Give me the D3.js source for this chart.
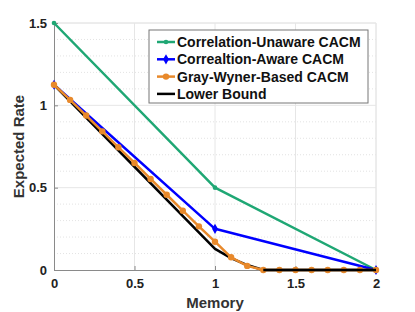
<!DOCTYPE html>
<html>
<head>
<meta charset="utf-8">
<script src="https://cdn.jsdelivr.net/npm/d3@7"></script>
<style>
  body { margin: 0; background: #fff; }
  text { font-family: "Liberation Sans", Arial, sans-serif; font-weight: bold; }
</style>
</head>
<body>
<svg width="415" height="312"></svg>
<script>
// DATA

var memSteps = [0, 0.1, 0.2, 0.3, 0.4, 0.5, 0.6, 0.7, 0.8, 0.9, 1, 1.1, 1.2, 1.3, 1.4, 1.5, 1.6, 1.7, 1.8, 1.9, 2];
var unawareMem = [0, 1, 2],
    unawareRate = [1.5, 0.5, 0];
var awareMem = [0, 1, 2],
    awareRate = [1.125, 0.25, 0];
var grayWynerRate = [1.125, 1.033, 0.938, 0.842, 0.745, 0.65, 0.553, 0.457, 0.36, 0.265, 0.172, 0.077, 0.025, 0, 0, 0, 0, 0, 0, 0, 0];
var boundMem = [0, 1, 1.1, 1.2, 1.3, 2],
    boundRate = [1.125, 0.128, 0.072, 0.03, 0, 0];
var xTicks = [0, 0.5, 1, 1.5, 2],
    yTicks = [0, 0.5, 1, 1.5];
var seriesNames = ["Correlation-Unaware CACM", "Correaltion-Aware CACM", "Gray-Wyner-Based CACM", "Lower Bound"];

// SETUP

var svg = d3.select("svg"),
    margin = { top: 23, right: 39, bottom: 42, left: 54 },
    width = 415 - margin.left - margin.right,
    height = 312 - margin.top - margin.bottom;

var x = d3.scaleLinear().domain([0, 2]).range([0, width]),
    y = d3.scaleLinear().domain([0, 1.5]).range([height, 0]);

var colors = ["#1fa774", "#0000ff", "#e8892b", "#000000"];

var g = svg.append("g")
    .attr("transform", "translate(" + margin.left + "," + margin.top + ")");

// minor grid (y)
g.selectAll(".minor").data(d3.range(1, 15).filter(function (i) { return i % 5 != 0; }).map(function (i) { return i / 10; }))
  .enter().append("line")
    .attr("x1", 0).attr("x2", width)
    .attr("y1", function (d) { return y(d); }).attr("y2", function (d) { return y(d); })
    .attr("stroke", "#dcdcdc").attr("stroke-width", 0.8).attr("stroke-dasharray", "1,2");

// major grid
g.selectAll(".gy").data(yTicks.slice(1)).enter().append("line")
    .attr("x1", 0).attr("x2", width)
    .attr("y1", function (d) { return y(d); }).attr("y2", function (d) { return y(d); })
    .attr("stroke", "#e6e6e6").attr("stroke-width", 1);
g.selectAll(".gx").data(xTicks.slice(1)).enter().append("line")
    .attr("y1", 0).attr("y2", height)
    .attr("x1", function (d) { return x(d); }).attr("x2", function (d) { return x(d); })
    .attr("stroke", "#e6e6e6").attr("stroke-width", 1);

// box top/right
g.append("path").attr("d", "M0,0H" + width + "V" + height)
    .attr("fill", "none").attr("stroke", "#e6e6e6");

// axes
var xAxis = g.append("g").attr("transform", "translate(0," + height + ")")
    .call(d3.axisBottom(x).tickValues(xTicks).tickSize(-4).tickPadding(9).tickFormat(d3.format("")));
var yAxis = g.append("g")
    .call(d3.axisLeft(y).tickValues(yTicks).tickSize(-4).tickPadding(7).tickFormat(d3.format("")));
[xAxis, yAxis].forEach(function (a) {
  a.select(".domain").attr("stroke", "#8a8a8a");
  a.selectAll(".tick line").attr("stroke", "#8a8a8a");
  a.selectAll("text").attr("font-size", 13).attr("fill", "#222")
    .style("font-family", "Liberation Sans, Arial, sans-serif").style("font-weight", "bold");
});

// LINES

var line = d3.line().x(function (d) { return x(d[0]); }).y(function (d) { return y(d[1]); });

var series = [
  d3.zip(unawareMem, unawareRate),
  d3.zip(awareMem, awareRate),
  d3.zip(memSteps, grayWynerRate),
  d3.zip(boundMem, boundRate)
];

function drawMarker(sel, i, cx, cy) {
  if (i == 0) {
    sel.append("circle").attr("cx", cx).attr("cy", cy).attr("r", 2.3).attr("fill", colors[0]);
  } else if (i == 1) {
    sel.append("path").attr("d", d3.symbol(d3.symbolDiamond, 30)())
      .attr("transform", "translate(" + cx + "," + cy + ")").attr("fill", colors[1]);
  } else if (i == 2) {
    sel.append("circle").attr("cx", cx).attr("cy", cy).attr("r", 3.2).attr("fill", colors[2]);
  }
}

[0, 1, 3, 2].forEach(function (i) {
  g.append("path").datum(series[i]).attr("d", line)
    .attr("fill", "none").attr("stroke", colors[i]).attr("stroke-width", 2.5)
    .attr("stroke-linejoin", "round");
  if (i != 3) {
    series[i].forEach(function (d) { drawMarker(g, i, x(d[0]), y(d[1])); });
  }
});
// lower bound on top where it overlaps orange zeros
g.append("path").datum(series[3].slice(4)).attr("d", line)
  .attr("fill", "none").attr("stroke", "#000").attr("stroke-width", 2.5);

// LEGEND

var lg = svg.append("g").attr("transform", "translate(149,30)");
lg.append("rect").attr("width", 219).attr("height", 73)
  .attr("fill", "#fff").attr("stroke", "#777").attr("stroke-width", 1);
seriesNames.forEach(function (name, i) {
  var yy = 12 + i * 17.3;
  lg.append("line").attr("x1", 8).attr("x2", 26).attr("y1", yy).attr("y2", yy)
    .attr("stroke", colors[i]).attr("stroke-width", 2.5);
  drawMarker(lg, i, 17, yy);
  lg.append("text").attr("x", 28).attr("y", yy + 5)
    .attr("font-size", 14).attr("fill", "#111").text(name);
});

// LABELS

svg.append("text").attr("x", margin.left + width / 2).attr("y", 308)
  .attr("text-anchor", "middle").attr("font-size", 15).attr("fill", "#333").text("Memory");
svg.append("text").attr("transform", "translate(24," + (margin.top + height / 2) + ") rotate(-90)")
  .attr("text-anchor", "middle").attr("font-size", 15).attr("fill", "#333").text("Expected Rate");
</script>
</body>
</html>
